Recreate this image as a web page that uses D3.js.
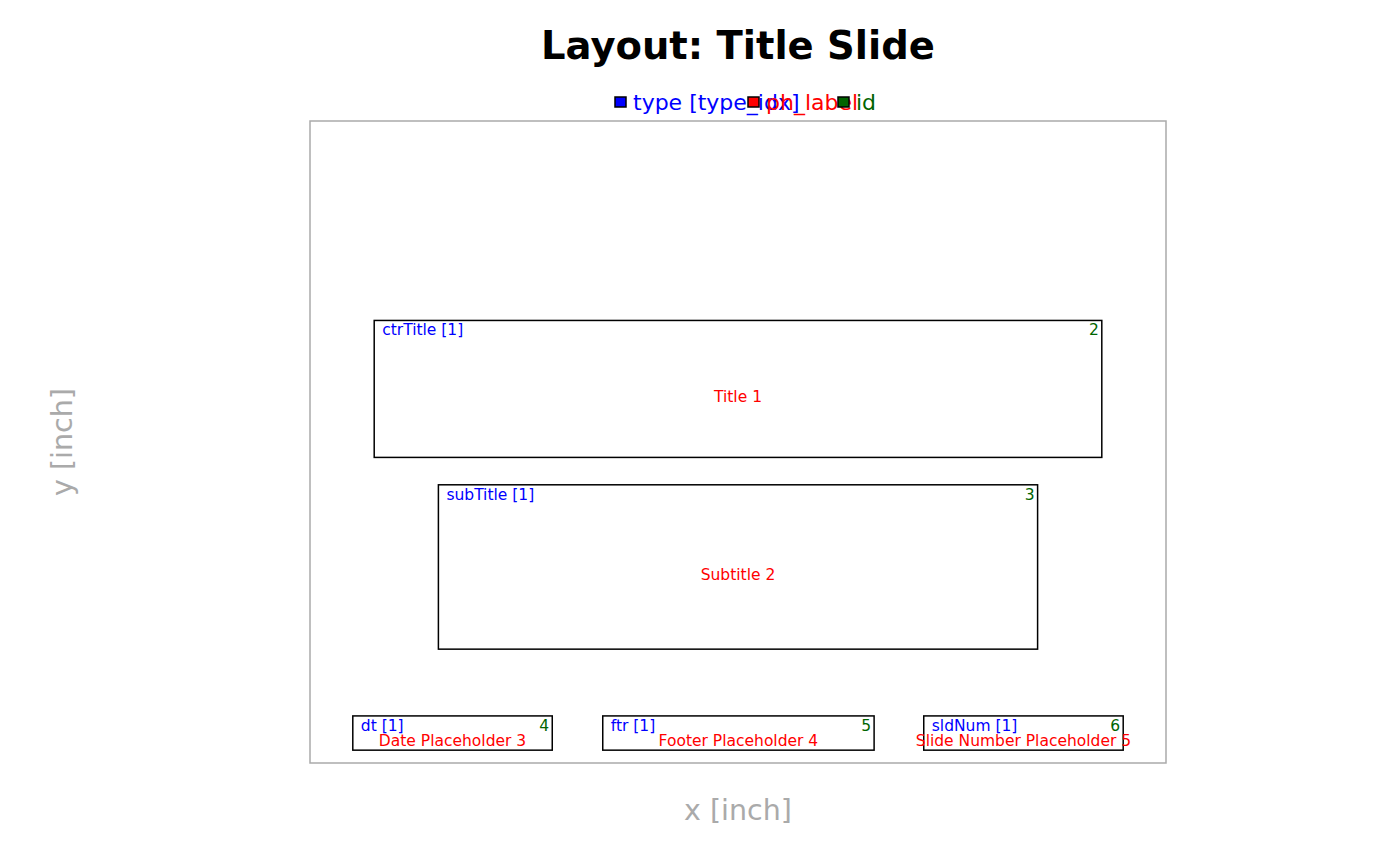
<!DOCTYPE html>
<html>
<head>
<meta charset="utf-8">
<script src="https://cdn.jsdelivr.net/npm/d3@7"></script>
<style>
  body { margin: 0; background: #fff; }
  text { font-family: "DejaVu Sans", sans-serif; }
</style>
</head>
<body>
<svg id="chart" width="1400" height="866"></svg>
<script>
// placeholder data (inches, slide is 10 x 7.5)
const phType = ['ctrTitle', 'subTitle', 'dt', 'ftr', 'sldNum']
const phIdx = [1, 1, 1, 1, 1]
const phLabel = ['Title 1', 'Subtitle 2', 'Date Placeholder 3', 'Footer Placeholder 4', 'Slide Number Placeholder 5']
const phId = [2, 3, 4, 5, 6]
const offX = [0.75, 1.5, 0.5, 3.42, 7.17]
const offY = [2.33, 4.25, 6.95, 6.95, 6.95]
const cx = [8.5, 7.0, 2.33, 3.17, 2.33]
const cy = [1.6, 1.92, 0.4, 0.4, 0.4]
const slideW = 10
const slideH = 7.5

const legendLabels = ['type [type_idx]', 'ph_label', 'id']
const legendColors = ['blue', 'red', 'darkgreen']

const svg = d3.select('#chart')
const pLeft = 310, pRight = 1166, pTop = 121, pBottom = 763

const xScale = d3.scaleLinear().domain([0, slideW]).range([pLeft, pRight])
const yScale = d3.scaleLinear().domain([0, slideH]).range([pTop, pBottom])

const data = phType.map((t, i) => ({
  type: t, idx: phIdx[i], label: phLabel[i], id: phId[i],
  x: offX[i], y: offY[i], w: cx[i], h: cy[i]
}))

// slide border
svg.append('rect')
  .attr('x', xScale(0)).attr('y', yScale(0))
  .attr('width', xScale(slideW) - xScale(0))
  .attr('height', yScale(slideH) - yScale(0))
  .attr('fill', 'none')
  .attr('stroke', '#aaaaaa')
  .attr('stroke-width', 1.5)

const ph = svg.selectAll('g.ph')
  .data(data)
  .enter()
  .append('g')
    .attr('class', 'ph')

ph.append('rect')
  .attr('x', d => xScale(d.x))
  .attr('y', d => yScale(d.y))
  .attr('width', d => xScale(d.x + d.w) - xScale(d.x))
  .attr('height', d => yScale(d.y + d.h) - yScale(d.y))
  .attr('fill', 'none')
  .attr('stroke', 'black')
  .attr('stroke-width', 1.5)

ph.append('text')
  .attr('x', d => xScale(d.x) + 8)
  .attr('y', d => yScale(d.y) + 15)
  .attr('font-size', '15.5px')
  .attr('fill', 'blue')
  .text(d => `${d.type} [${d.idx}]`)

ph.append('text')
  .attr('x', d => xScale(d.x + d.w) - 3)
  .attr('y', d => yScale(d.y) + 15)
  .attr('font-size', '15.5px')
  .attr('text-anchor', 'end')
  .attr('fill', 'darkgreen')
  .text(d => d.id)

ph.append('text')
  .attr('x', d => xScale(d.x + d.w / 2))
  .attr('y', d => yScale(d.y + d.h / 2) + 13)
  .attr('font-size', '15.5px')
  .attr('text-anchor', 'middle')
  .attr('fill', 'red')
  .text(d => d.label)

// title
svg.append('text')
  .attr('x', (pLeft + pRight) / 2)
  .attr('y', 59)
  .attr('text-anchor', 'middle')
  .attr('font-size', '38.5px')
  .attr('font-weight', 'bold')
  .text('Layout: Title Slide')

// legend (overlapping like the original)
const legX = [615, 748, 838]
const leg = svg.selectAll('g.leg')
  .data(legendLabels)
  .enter()
  .append('g')
    .attr('class', 'leg')
    .attr('transform', (d, i) => `translate(${legX[i]}, 97)`)

leg.append('rect')
  .attr('width', 11).attr('height', 10)
  .attr('fill', (d, i) => legendColors[i])
  .attr('stroke', 'black')
  .attr('stroke-width', 1.5)

leg.append('text')
  .attr('x', 18)
  .attr('y', 13)
  .attr('font-size', '22px')
  .attr('fill', (d, i) => legendColors[i])
  .text(d => d)

// axis titles
svg.append('text')
  .attr('x', (pLeft + pRight) / 2)
  .attr('y', 820)
  .attr('text-anchor', 'middle')
  .attr('font-size', '28.5px')
  .attr('fill', '#aaaaaa')
  .text('x [inch]')

svg.append('text')
  .attr('transform', `translate(72, ${(pTop + pBottom) / 2}) rotate(-90)`)
  .attr('text-anchor', 'middle')
  .attr('font-size', '28.5px')
  .attr('fill', '#aaaaaa')
  .text('y [inch]')
</script>
</body>
</html>
